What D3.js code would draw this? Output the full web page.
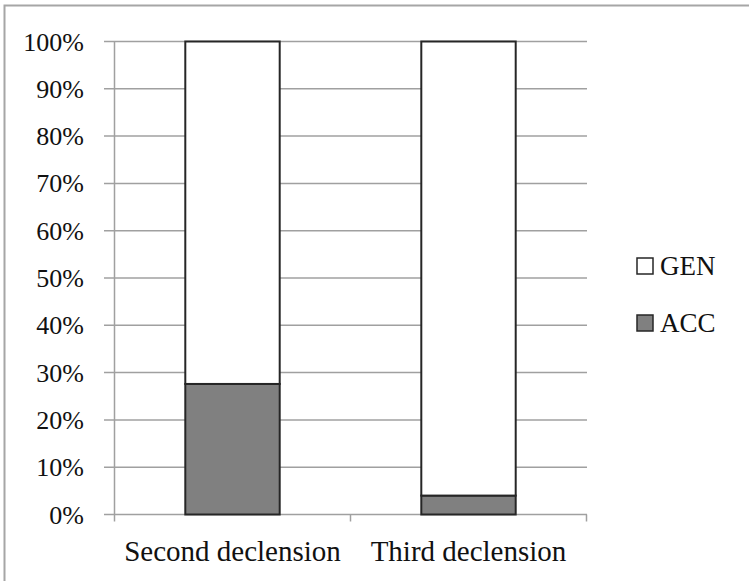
<!DOCTYPE html>
<meta charset="utf-8">
<script src="https://d3js.org/d3.v7.min.js"></script>
<style>
body { margin: 0; background: #fff; }
svg { font-family: "Liberation Serif", "DejaVu Serif", serif; }
</style>
<svg width="749" height="581"></svg>
<script>

var categories = ["Second declension", "Third declension"];
var series = ["ACC", "GEN"];
var accValues = [27.6, 4.0];
var genValues = [72.4, 96.0];
var yTicks = [0, 10, 20, 30, 40, 50, 60, 70, 80, 90, 100];

var colors = { ACC: "#808080", GEN: "#ffffff" };

var svg = d3.select("svg");

// outer frame (cropped at right and bottom)
svg.append("rect")
    .attr("x", 4.5).attr("y", 5.5)
    .attr("width", 800).attr("height", 700)
    .attr("fill", "none")
    .attr("stroke", "#a6a6a6")
    .attr("stroke-width", 2);

var x0 = 114.5, x1 = 586.5;
var y = d3.scaleLinear().domain([0, 100]).range([514.5, 41.5]);
var x = d3.scaleBand().domain(categories).range([x0, x1]).paddingInner(0.6).paddingOuter(0.3);

// gridlines
svg.append("g").selectAll("line")
  .data(yTicks)
  .join("line")
    .attr("x1", 104).attr("x2", x1 + 0.5)
    .attr("y1", d => y(d)).attr("y2", d => y(d))
    .attr("stroke", "#a0a0a0")
    .attr("stroke-width", 1.5);

// y axis line
svg.append("line")
    .attr("x1", x0).attr("x2", x0)
    .attr("y1", y(100)).attr("y2", y(0))
    .attr("stroke", "#a0a0a0").attr("stroke-width", 1.5);

// x ticks
var xTickPos = [x0, (x0 + x1) / 2, x1];
svg.append("g").selectAll("line")
  .data(xTickPos)
  .join("line")
    .attr("x1", d => d).attr("x2", d => d)
    .attr("y1", y(0)).attr("y2", y(0) + 7)
    .attr("stroke", "#a0a0a0").attr("stroke-width", 1.5);

// y labels
svg.append("g").selectAll("text")
  .data(yTicks)
  .join("text")
    .attr("x", 84)
    .attr("y", d => y(d) + 9)
    .attr("text-anchor", "end")
    .attr("font-size", 26)
    .attr("fill", "#111")
    .text(d => d + "%");

// stacked bars
var rows = categories.map((c, i) => ({ cat: c, ACC: accValues[i], GEN: genValues[i] }));
var stacked = d3.stack().keys(series)(rows);

svg.append("g").selectAll("g")
  .data(stacked)
  .join("g")
    .attr("fill", d => colors[d.key])
  .selectAll("rect")
  .data(d => d)
  .join("rect")
    .attr("x", d => x(d.data.cat))
    .attr("y", d => y(d[1]))
    .attr("width", x.bandwidth())
    .attr("height", d => y(d[0]) - y(d[1]))
    .attr("stroke", "#262626")
    .attr("stroke-width", 2);

// category labels
svg.append("g").selectAll("text")
  .data(categories)
  .join("text")
    .attr("x", d => x(d) + x.bandwidth() / 2)
    .attr("y", 561)
    .attr("text-anchor", "middle")
    .attr("font-size", 29)
    .attr("fill", "#111")
    .text(d => d);

// legend
var legendItems = ["GEN", "ACC"];
var lg = svg.append("g").selectAll("g")
  .data(legendItems)
  .join("g")
    .attr("transform", (d, i) => "translate(637," + (258 + i * 57) + ")");
lg.append("rect")
    .attr("width", 16).attr("height", 16)
    .attr("fill", d => colors[d])
    .attr("stroke", "#262626").attr("stroke-width", 1.5);
lg.append("text")
    .attr("x", 23).attr("y", 17)
    .attr("font-size", 27)
    .attr("fill", "#111")
    .text(d => d);
</script>
